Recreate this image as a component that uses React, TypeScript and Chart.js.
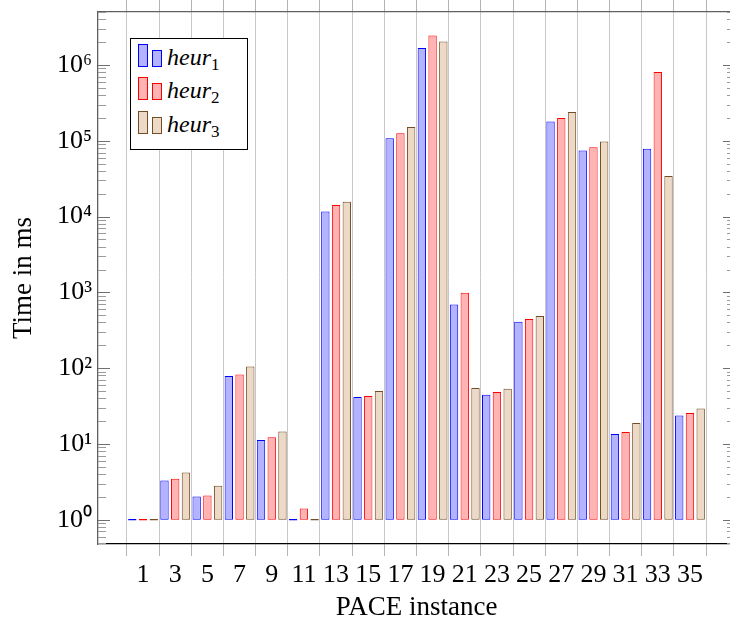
import React, { useEffect, useRef } from 'react';
import { Chart, registerables } from 'chart.js';

Chart.register(...registerables);

const instances = [1, 3, 5, 7, 9, 11, 13, 15, 17, 19, 21, 23, 25, 27, 29, 31, 33, 35];
const heur1 = [1, 3.3, 2.03, 78.7, 11.3, 1, 11700, 41.6, 108000, 1670000, 692, 44.6, 409, 180000, 74500, 13.5, 78400, 23.8];
const heur2 = [1, 3.47, 2.09, 82.6, 12.2, 1.41, 14200, 42.8, 126000, 2450000, 988, 48.3, 444, 199000, 82000, 14.4, 806000, 25.5];
const heur3 = [1, 4.2, 2.81, 105, 14.6, 1, 15700, 49.9, 152000, 2040000, 54.6, 53.5, 486, 239000, 98000, 18.9, 34200, 29.4];
const seriesBase = ['heur', 'heur', 'heur'];
const seriesSub = ['1', '2', '3'];
const yMin = 0.478;
const yMax = 5.0e6;
const xMin = -1.8;
const xMax = 37.8;

const fills = ['rgb(179,179,255)', 'rgb(255,179,179)', 'rgb(236,217,198)'];
const strokes = ['rgb(0,0,255)', 'rgb(255,0,0)', 'rgb(115,77,38)'];
const SUP = '⁰¹²³⁴⁵⁶⁷⁸⁹';
const FONT = '"Liberation Serif", "Times New Roman", serif';

function isPow10(v: number) {
  const e = Math.round(Math.log10(v));
  return Math.abs(v - Math.pow(10, e)) < 1e-9 * Math.pow(10, e);
}

const innerTicks = {
  id: 'innerTicks',
  afterDraw(chart: any) {
    const y = chart.scales.y;
    const { left, right } = chart.chartArea;
    const ctx = chart.ctx;
    ctx.save();
    ctx.lineWidth = 1;
    y.ticks.forEach((t: any) => {
      const p = Math.round(y.getPixelForValue(t.value)) + 0.5;
      const major = isPow10(t.value);
      const len = major ? 12 : 8;
      ctx.strokeStyle = major ? '#707070' : '#9a9a9a';
      ctx.beginPath();
      ctx.moveTo(left, p);
      ctx.lineTo(left + len, p);
      ctx.moveTo(right - len, p);
      ctx.lineTo(right, p);
      ctx.stroke();
    });
    ctx.restore();
  },
};

function Legend() {
  return (
    <div
      style={{
        position: 'absolute', left: 130, top: 38, width: 118, height: 112,
        boxSizing: 'border-box', border: '1.3px solid #000', background: '#fff',
      }}
    >
      {seriesBase.map((name, i) => (
        <React.Fragment key={i}>
          <div style={{
            position: 'absolute', left: 7, top: 5 + 33.4 * i, width: 9.5, height: 23,
            boxSizing: 'border-box', border: `1px solid ${strokes[i]}`, background: fills[i],
          }} />
          <div style={{
            position: 'absolute', left: 21, top: 11 + 33.4 * i, width: 10, height: 17,
            boxSizing: 'border-box', border: `1px solid ${strokes[i]}`, background: fills[i],
          }} />
          <div style={{
            position: 'absolute', left: 36, top: 6 + 33.4 * i, fontFamily: FONT, fontSize: 24,
            lineHeight: '24px', whiteSpace: 'nowrap', color: '#000',
          }}>
            <i>{name}</i>
            <span style={{ fontSize: 17, position: 'relative', top: 5 }}>{seriesSub[i]}</span>
          </div>
        </React.Fragment>
      ))}
    </div>
  );
}

export default function App() {
  const ref = useRef<HTMLCanvasElement>(null);

  useEffect(() => {
    const series = [heur1, heur2, heur3];
    const chart = new Chart(ref.current as HTMLCanvasElement, {
      type: 'bar',
      data: {
        datasets: series.map((vals, i) => ({
          label: seriesBase[i] + seriesSub[i],
          data: vals.map((v, j) => ({ x: instances[j], y: v })),
          backgroundColor: fills[i],
          borderColor: strokes[i],
          borderWidth: 1,
          borderSkipped: false,
          base: 1,
          minBarLength: 1.5,
          categoryPercentage: 1,
          barPercentage: 0.78,
        })),
      },
      options: {
        animation: false,
        responsive: false,
        events: [],
        devicePixelRatio: 1,
        layout: { padding: { left: 0, right: 10, top: 0, bottom: 0 } },
        font: { family: FONT },
        plugins: { legend: { display: false }, tooltip: { enabled: false } },
        scales: {
          x: {
            type: 'linear', position: 'bottom', min: xMin, max: xMax, offset: false, bounds: 'data',
            afterBuildTicks: (s: any) => { s.ticks = instances.map((v) => ({ value: v })); },
            afterFit: (s: any) => { s.height = 84; s.paddingLeft = 0; s.paddingRight = 0; },
            grid: { offset: true, color: '#c8c8c8', lineWidth: 1, tickLength: 12, tickColor: '#b4b4b4', drawTicks: true },
            border: { color: '#000', width: 1.2 },
            ticks: {
              autoSkip: false, maxRotation: 0, minRotation: 0, padding: 4, color: '#000',
              font: { size: 26, family: FONT },
              callback: (v: any) => String(v),
            },
            title: {
              display: true, text: 'PACE instance', color: '#000',
              font: { size: 27, family: FONT }, padding: { top: 0, bottom: 4 },
            },
          },
          x2: {
            type: 'linear', position: 'top', min: xMin, max: xMax, offset: false, bounds: 'data',
            afterBuildTicks: (s: any) => { s.ticks = instances.map((v) => ({ value: v })); },
            afterFit: (s: any) => { s.height = 12; s.paddingLeft = 0; s.paddingRight = 0; },
            grid: { offset: true, drawOnChartArea: false, tickLength: 12, color: '#c8c8c8', tickColor: '#b4b4b4' },
            border: { color: '#606060', width: 1.3 },
            ticks: { display: false },
          },
          y: {
            type: 'logarithmic', position: 'left', min: yMin, max: yMax, bounds: 'data',
            afterBuildTicks: (s: any) => {
              const t: any[] = [];
              for (let e = -1; e <= 6; e++) {
                for (let m = 1; m <= 9; m++) {
                  const v = m * Math.pow(10, e);
                  if (v >= yMin && v <= yMax * 1.0001) t.push({ value: v });
                }
              }
              s.ticks = t;
            },
            afterFit: (s: any) => { s.width = 98; s.paddingTop = 0; s.paddingBottom = 0; },
            grid: { display: false, drawTicks: false },
            border: { display: true, color: '#606060', width: 1.3 },
            ticks: {
              autoSkip: false, padding: 6, color: '#000',
              font: { size: 26, family: FONT },
              callback: (v: any) => {
                if (!isPow10(v)) return '';
                const e = Math.round(Math.log10(v));
                return '10' + String(e).split('').map((d) => SUP[+d]).join('');
              },
            },
            title: {
              display: true, text: 'Time in ms', color: '#000',
              font: { size: 27, family: FONT }, padding: { top: 8, bottom: 0 },
            },
          },
        },
      },
      plugins: [innerTicks],
    } as any);
    return () => chart.destroy();
  }, []);

  return (
    <div style={{ position: 'fixed', left: 0, top: 0, width: 730, height: 628, overflow: 'hidden', background: '#fff' }}>
      <canvas ref={ref} width={745} height={628} style={{ display: 'block', width: 745, height: 628 }} />
      <Legend />
    </div>
  );
}
